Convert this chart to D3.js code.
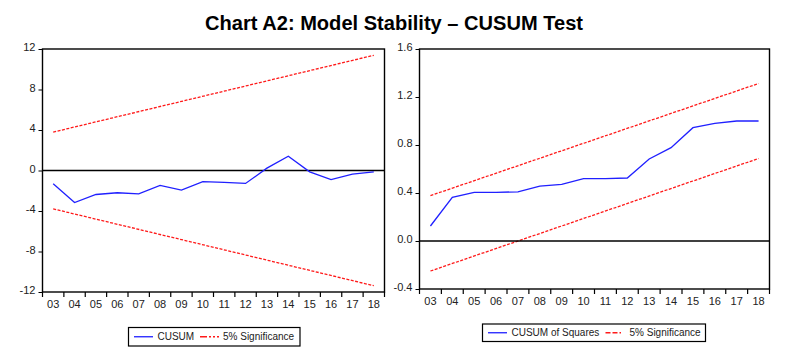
<!DOCTYPE html>
<html><head><meta charset="utf-8">
<script src="https://cdn.jsdelivr.net/npm/d3@7"></script>
<style>body{margin:0;background:#fff;} svg{display:block;} text{font-family:"Liberation Sans",Arial,sans-serif;}</style>
</head><body>
<svg id="c" width="802" height="356"></svg>
<script>
const years = ["03","04","05","06","07","08","09","10","11","12","13","14","15","16","17","18"];
const cusum = [-1.31,-3.16,-2.37,-2.2,-2.3,-1.48,-1.94,-1.09,-1.18,-1.28,0.23,1.41,-0.13,-0.89,-0.36,-0.13];
const cusumUpper = [3.79, 11.38];   // at first and last year
const cusumLower = [-3.79, -11.38];
const cusumTicks = [-12,-8,-4,0,4,8,12];
const cusumSq = [0.125,0.364,0.405,0.405,0.41,0.458,0.472,0.519,0.519,0.525,0.683,0.778,0.944,0.98,1.0,1.0];
const sqUpper = [0.378, 1.3125];
const sqLower = [-0.25, 0.6875];
const sqTicks = [-0.4,0.0,0.4,0.8,1.2,1.6];
const boundYears = ["03","18"];

const svg = d3.select("#c");
svg.append("rect").attr("width",802).attr("height",356).attr("fill","#fff");

const title = svg.append("text").attr("x",394).attr("y",30).attr("text-anchor","middle")
  .attr("font-size",20).attr("font-weight","bold").attr("fill","#000")
  .text("Chart A2: Model Stability \u2013 CUSUM Test");
title.attr("textLength",378).attr("lengthAdjust","spacingAndGlyphs");

function panel(o){
  const g = svg.append("g");
  const x = d3.scaleBand().domain(years).range([o.x0,o.x1]);
  const y = d3.scaleLinear().domain(o.ydom).range([o.y1,o.y0]);
  const cx = d => x(d)+x.bandwidth()/2;
  const line2 = d3.line().x((d,i)=>cx(boundYears[i])).y(d=>y(d));
  [o.up,o.lo].forEach(b=>{
    g.append("path").datum(b).attr("d",line2).attr("fill","none")
      .attr("stroke","#ff1a1a").attr("stroke-width",1.3).attr("stroke-dasharray","3,1.5");
  });
  g.append("line").attr("x1",o.x0).attr("x2",o.x1).attr("y1",y(0)).attr("y2",y(0))
    .attr("stroke","#000").attr("stroke-width",1.3);
  const ln = d3.line().x((d,i)=>cx(years[i])).y(d=>y(d));
  g.append("path").datum(o.vals).attr("d",ln).attr("fill","none")
    .attr("stroke","#2020ff").attr("stroke-width",1.3);
  g.append("rect").attr("x",o.x0).attr("y",o.y0).attr("width",o.x1-o.x0).attr("height",o.y1-o.y0)
    .attr("fill","none").attr("stroke","#000").attr("stroke-width",1.4);
  const ya = g.append("g").attr("transform",`translate(${o.x0},0)`)
    .call(d3.axisLeft(y).tickValues(o.ticks).tickSize(4).tickPadding(3)
      .tickFormat(d => o.fmt(d).replace("\u2212","-")));
  ya.select(".domain").remove();
  ya.selectAll("text").attr("font-size",11).attr("fill","#222").attr("dy","0.15em");
  ya.selectAll("line").attr("stroke","#000");
  const xa = g.append("g").attr("transform",`translate(0,${o.y1})`)
    .call(d3.axisBottom(x).tickSize(0).tickPadding(8));
  xa.select(".domain").remove();
  xa.selectAll("text").attr("font-size",11).attr("fill","#222");
  const bounds = years.map(d=>x(d)).concat([o.x1]);
  g.selectAll(".bt").data(bounds).enter().append("line")
    .attr("x1",d=>d).attr("x2",d=>d).attr("y1",o.y1).attr("y2",o.y1+5)
    .attr("stroke","#000").attr("stroke-width",1.2);
  const L = o.leg;
  g.append("rect").attr("x",L.x).attr("y",L.y).attr("width",L.w).attr("height",L.h)
    .attr("fill","#fff").attr("stroke","#000").attr("stroke-width",1.2);
  const my = L.y+L.h/2;
  g.append("line").attr("x1",L.l1[0]).attr("x2",L.l1[1]).attr("y1",my).attr("y2",my)
    .attr("stroke","#2020ff").attr("stroke-width",1.3);
  g.append("text").attr("x",L.t1).attr("y",my+3.5).attr("font-size",10).attr("fill","#222").text(L.s1);
  g.append("line").attr("x1",L.l2[0]).attr("x2",L.l2[1]).attr("y1",my).attr("y2",my)
    .attr("stroke","#ff1a1a").attr("stroke-width",1.3).attr("stroke-dasharray",L.dash);
  g.append("text").attr("x",L.t2).attr("y",my+3.5).attr("font-size",10).attr("fill","#222").text("5% Significance");
}

panel({x0:42.5,x1:384.5,y0:49,y1:292,ydom:[-12,12],ticks:cusumTicks,fmt:d3.format("d"),
  vals:cusum,up:cusumUpper,lo:cusumLower,
  leg:{x:128.5,y:327.5,w:171.5,h:18.5,l1:[134,153],t1:157.5,s1:"CUSUM",l2:[200,219],t2:223,dash:"7,2,2,2,2,2"}});
panel({x0:419.5,x1:769.5,y0:49,y1:289,ydom:[-0.4,1.6],ticks:sqTicks,fmt:d3.format(".1f"),
  vals:cusumSq,up:sqUpper,lo:sqLower,
  leg:{x:482.5,y:324,w:223,h:17.5,l1:[488,507],t1:511.5,s1:"CUSUM of Squares",l2:[605.5,621],t2:629.5,dash:"5,2"}});
</script>
</body></html>
